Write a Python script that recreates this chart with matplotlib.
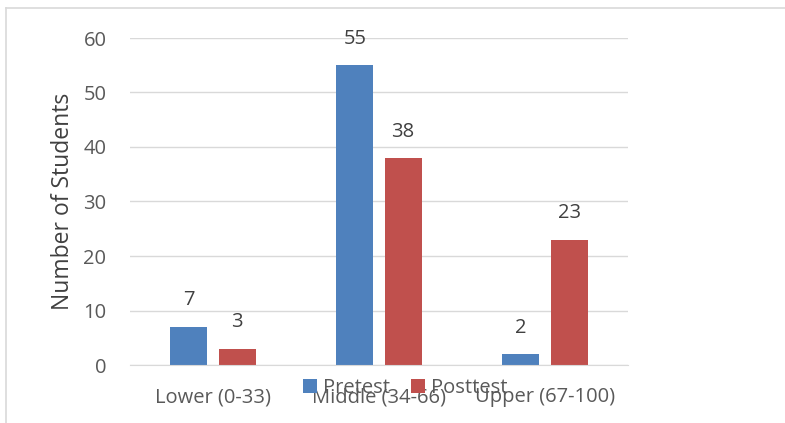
import numpy as np
import matplotlib.pyplot as plt
from matplotlib.lines import Line2D

categories = ['Lower (0-33)', 'Middle (34-66)', 'Upper (67-100)']
pretest = [7, 55, 2]
posttest = [3, 38, 23]

plt.rcParams['font.family'] = ['Open Sans', 'DejaVu Sans']
txt = '#595959'

fig = plt.figure(figsize=(7.85, 4.23), dpi=100)
ax = fig.add_axes([130 / 785, 1 - 365 / 423, 498 / 785, 327 / 423])

x = np.arange(len(categories))
w = 0.223
b1 = ax.bar(x - 0.145, pretest, w, color='#4F81BD', label='Pretest')
b2 = ax.bar(x + 0.145, posttest, w, color='#C0504D', label='Posttest')
for bars in (b1, b2):
    for r in bars:
        ax.annotate(str(int(r.get_height())), (r.get_x() + r.get_width() / 2, r.get_height()),
                    xytext=(0, 19), textcoords='offset points',
                    ha='center', va='center', fontsize=14.5, color='#404040')

ax.set_xlim(-0.5, 2.5)
ax.set_ylim(0, 60)
ax.set_yticks(range(0, 61, 10))
ax.set_xticks(x)
ax.set_xticklabels(categories)
ax.yaxis.grid(True, color='#d9d9d9', linewidth=1)
ax.set_axisbelow(True)
for s in ['top', 'right', 'left']:
    ax.spines[s].set_visible(False)
ax.spines['bottom'].set_color('#d9d9d9')
ax.tick_params(length=0, labelsize=14.5, labelcolor=txt)
ax.tick_params(axis='y', pad=17)
ax.tick_params(axis='x', pad=16)
ax.set_ylabel('Number of Students', fontsize=16.5, color='#404040', labelpad=6)

ax.legend(loc='center', bbox_to_anchor=(405 / 785, 1 - 388 / 423),
          bbox_transform=fig.transFigure, ncol=2, frameon=False,
          fontsize=14.5, labelcolor=txt, handlelength=0.68, handleheight=0.68,
          handletextpad=0.3, columnspacing=1.05)

fig.add_artist(Line2D([6 / 785, 6 / 785], [0, 1 - 8 / 423], color='#d9d9d9', lw=1.2))
fig.add_artist(Line2D([6 / 785, 1], [1 - 8 / 423, 1 - 8 / 423], color='#d9d9d9', lw=1.2))

fig.savefig('out.png', dpi=100)
